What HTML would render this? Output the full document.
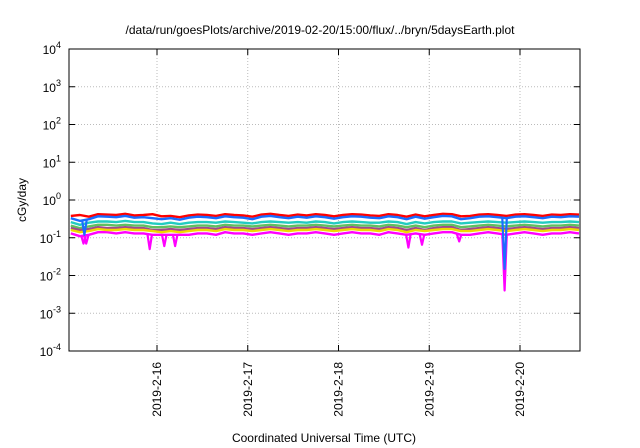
<!DOCTYPE html>
<html><head><meta charset="utf-8"><style>
body{margin:0;background:#fff}
svg{display:block;font-family:"Liberation Sans",sans-serif}
</style></head><body>
<svg id="chart" width="640" height="448" viewBox="0 0 640 448">
<text x="320" y="34" font-size="12" text-anchor="middle">/data/run/goesPlots/archive/2019-02-20/15:00/flux/../bryn/5daysEarth.plot</text>
<g id="grid"></g>
<g id="series"></g>
<rect x="69" y="49" width="511" height="302" fill="none" stroke="#000" stroke-width="1"/>
<g id="axes"></g>
<text transform="translate(26,200) rotate(-90)" font-size="12" text-anchor="middle">cGy/day</text>
<text x="324" y="442" font-size="12" text-anchor="middle">Coordinated Universal Time (UTC)</text>
</svg>
<script>
const yExponents=[4,3,2,1,0,-1,-2,-3,-4];
const xTickDays=[16,17,18,19,20];
const xTickLabels=["2019-2-16","2019-2-17","2019-2-18","2019-2-19","2019-2-20"];
const times=[15.05,15.15,15.25,15.35,15.45,15.55,15.65,15.75,15.85,15.95,16.05,16.15,16.25,16.35,16.45,16.55,16.65,16.75,16.85,16.95,17.05,17.15,17.25,17.35,17.45,17.55,17.65,17.75,17.85,17.95,18.05,18.15,18.25,18.35,18.45,18.55,18.65,18.75,18.85,18.95,19.05,19.15,19.25,19.35,19.45,19.55,19.65,19.75,19.85,19.95,20.05,20.15,20.25,20.35,20.45,20.55,20.65];
const red=[.38,.40,.36,.42,.41,.40,.43,.39,.40,.42,.37,.38,.35,.39,.41,.40,.38,.42,.40,.39,.36,.41,.43,.40,.38,.41,.39,.42,.40,.37,.40,.42,.41,.39,.38,.42,.40,.36,.41,.37,.40,.43,.42,.37,.38,.41,.42,.40,.38,.41,.42,.40,.38,.41,.40,.42,.41];
const blue=[.33,.28,.31,.37,.36,.35,.38,.34,.35,.33,.31,.33,.30,.34,.36,.35,.33,.37,.35,.34,.31,.36,.38,.35,.33,.36,.34,.37,.35,.32,.35,.37,.36,.34,.33,.37,.35,.31,.36,.32,.35,.38,.37,.31,.33,.36,.37,.35,.33,.36,.37,.35,.33,.36,.35,.37,.36];
const cyan=[.26,.22,.25,.27,.27,.26,.28,.26,.26,.24,.23,.25,.23,.25,.26,.26,.25,.27,.26,.25,.24,.26,.27,.26,.25,.26,.25,.27,.26,.24,.26,.27,.26,.25,.25,.27,.26,.23,.26,.24,.26,.27,.27,.24,.25,.26,.27,.26,.25,.26,.27,.26,.25,.26,.26,.27,.26];
const green=[.21,.18,.20,.22,.22,.21,.22,.21,.21,.19,.19,.20,.19,.20,.21,.21,.20,.22,.21,.21,.20,.21,.22,.21,.20,.21,.21,.22,.21,.20,.21,.22,.21,.21,.20,.22,.21,.19,.21,.19,.21,.22,.22,.19,.20,.21,.22,.21,.20,.21,.22,.21,.20,.21,.21,.22,.21];
const purple=[.18,.16,.17,.19,.18,.18,.19,.18,.18,.16,.16,.17,.16,.17,.18,.18,.17,.19,.18,.18,.17,.18,.19,.18,.17,.18,.18,.19,.18,.17,.18,.19,.18,.18,.17,.19,.18,.16,.18,.16,.18,.19,.19,.16,.17,.18,.19,.18,.17,.18,.19,.18,.17,.18,.18,.19,.18];
const yellow=[.16,.14,.15,.17,.16,.16,.17,.16,.16,.15,.14,.15,.14,.15,.16,.16,.15,.17,.16,.16,.15,.16,.17,.16,.15,.16,.16,.17,.16,.15,.16,.17,.16,.16,.15,.17,.16,.14,.16,.15,.16,.17,.17,.15,.15,.16,.17,.16,.15,.16,.17,.16,.15,.16,.16,.17,.16];
const magenta=[.13,.11,.12,.14,.14,.13,.14,.13,.13,.12,.12,.12,.12,.12,.13,.13,.12,.14,.13,.13,.12,.13,.14,.13,.12,.13,.13,.14,.13,.12,.13,.14,.13,.13,.12,.14,.13,.12,.13,.12,.13,.14,.14,.12,.12,.13,.14,.13,.12,.13,.14,.13,.12,.13,.13,.14,.13];
const magentaSpikeDays=[15.19,15.22,15.92,16.08,16.2,18.77,18.92,19.33,19.83];
const magentaSpikeValues=[0.07,0.07,0.05,0.06,0.06,0.055,0.065,0.08,0.004];
const blueSpikeDays=[15.2,19.83];
const blueSpikeValues=[0.12,0.015];

const NS="http://www.w3.org/2000/svg";
const L=69,R=580,T=49,B=351;
function xScale(d){return 157+(d-16)*90.75;}
function yScale(v){return T+(4-Math.log10(v))*(B-T)/8;}
function interp(vals,d){for(let i=0;i<times.length-1;i++){if(d>=times[i]&&d<=times[i+1]){const f=(d-times[i])/(times[i+1]-times[i]);return vals[i]+(vals[i+1]-vals[i])*f;}}return vals[vals.length-1];}
function mk(tag,attrs,parent){const e=document.createElementNS(NS,tag);for(const k in attrs)e.setAttribute(k,attrs[k]);parent.appendChild(e);return e;}
const grid=document.getElementById('grid'),axes=document.getElementById('axes'),ser=document.getElementById('series');
yExponents.forEach(p=>{
  const y=yScale(Math.pow(10,p));
  if(p<4&&p>-4){const g=mk('line',{x1:L,x2:R,y1:y,y2:y,stroke:'#bbb','stroke-dasharray':'1,2'},grid);
  
  }
  const t1=mk('line',{x1:L,x2:L+6,y1:y,y2:y,stroke:'#000'},axes);
  
  
  const t2=mk('line',{x1:R-6,x2:R,y1:y,y2:y,stroke:'#000'},axes);
  
  
  const tx=mk('text',{x:L-8,y:y+5,'font-size':'12','text-anchor':'end'},axes);
  
  
  tx.textContent='10';
  const sp=mk('tspan',{dy:'-6','font-size':'9'},tx);sp.textContent=String(p);
});
xTickDays.forEach((d,i)=>{
  const x=xScale(d);
  const g=mk('line',{x1:x,x2:x,y1:T,y2:B,stroke:'#bbb','stroke-dasharray':'1,2'},grid);
  
  
  const t1=mk('line',{x1:x,x2:x,y1:B-6,y2:B,stroke:'#000'},axes);
  
  
  const t2=mk('line',{x1:x,x2:x,y1:T,y2:T+6,stroke:'#000'},axes);
  
  
  const tx=mk('text',{transform:`translate(${x+4},362) rotate(-90)`,'font-size':'12','text-anchor':'end'},axes);
  
  
  tx.textContent=xTickLabels[i];
});
function spikes(vals,days,values,col,name){
  days.forEach((d,i)=>{
    const b=interp(vals,d);
    const pts=[[d-0.025,b],[d,values[i]],[d+0.025,b]].map(p=>xScale(p[0]).toFixed(1)+','+yScale(p[1]).toFixed(1)).join(' ');
    const pl=mk('polyline',{points:pts,fill:'none',stroke:col,'stroke-width':'2.2','stroke-linejoin':'round'},ser);
    
    
  });
}
const seriesList=[[magenta,'#ff00ff','series-magenta'],[red,'#ff0000','series-red'],[blue,'#1a6cff','series-blue'],[cyan,'#22ccc0','series-cyan'],[green,'#60c060','series-green'],[purple,'#a04a8a','series-purple'],[yellow,'#f0d800','series-yellow']];
spikes(magenta,magentaSpikeDays,magentaSpikeValues,'#ff00ff','magenta-spike');
seriesList.forEach(([vals,col,name])=>{
  const pts=vals.map((v,i)=>xScale(times[i]).toFixed(1)+','+yScale(v).toFixed(1)).join(' ');
  const pl=mk('polyline',{points:pts,fill:'none',stroke:col,'stroke-width':'2.4','stroke-linejoin':'round'},ser);
  
  
});
spikes(blue,blueSpikeDays,blueSpikeValues,'#1a6cff','blue-spike');
</script>
</body></html>
